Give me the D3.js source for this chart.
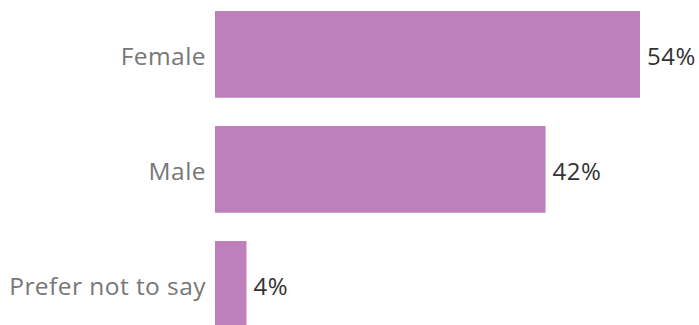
<!DOCTYPE html>
<html><head><meta charset="utf-8">
<script src="https://cdn.jsdelivr.net/npm/d3@7"></script>
<style>body{margin:0;background:#fff}</style>
</head><body>
<svg id="c" width="699" height="325"></svg>
<script>
const categories = ["Female", "Male", "Prefer not to say"];
const values = [54, 42, 4];
const valueLabels = ["54%", "42%", "4%"];

const svg = d3.select("#c");
const left = 215;
const x = d3.scaleLinear().domain([0, 54]).range([left, 640]);
const y = d3.scaleBand().domain(categories).range([-3.1, 341.9]).paddingInner(0.246).paddingOuter(0.123);
const data = categories.map((c, i) => ({c, v: values[i], l: valueLabels[i]}));

svg.selectAll("rect").data(data).enter().append("rect")
  .attr("x", x(0)).attr("y", d => y(d.c))
  .attr("width", d => x(d.v) - x(0)).attr("height", y.bandwidth())
  .attr("fill", "#be80bb");

svg.selectAll("text.cat").data(data).enter().append("text")
  .attr("class", "cat")
  .attr("x", left - 9).attr("y", d => y(d.c) + y.bandwidth() / 2 + 2)
  .attr("dy", "0.35em").attr("text-anchor", "end")
  .attr("font-family", "Open Sans").attr("font-size", 24.5)
  .attr("letter-spacing", "0.45px")
  .attr("fill", "#777").text(d => d.c);

svg.selectAll("text.val").data(data).enter().append("text")
  .attr("class", "val")
  .attr("x", d => x(d.v) + 7).attr("y", d => y(d.c) + y.bandwidth() / 2 + 2)
  .attr("dy", "0.35em")
  .attr("font-family", "Open Sans").attr("font-size", 24)
  .attr("letter-spacing", "0.5px")
  .attr("fill", "#333").text(d => d.l);
</script>
</body></html>
